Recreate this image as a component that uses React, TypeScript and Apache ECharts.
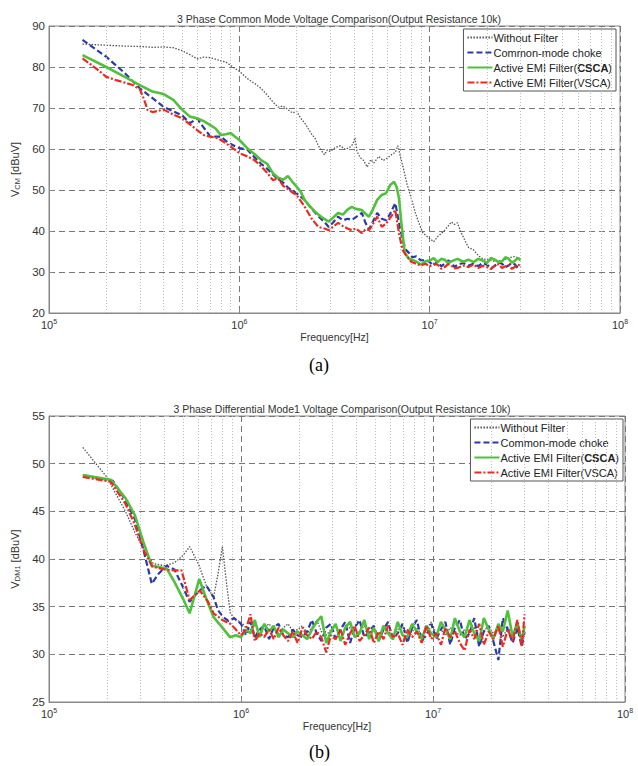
import React, { useEffect, useRef } from "react";
import * as echarts from "echarts";

// ---------- Chart (a): Common mode ----------
const cmTitle = "3 Phase Common Mode Voltage Comparison(Output Resistance 10k)";
const dmTitle = "3 Phase Differential Mode1 Voltage Comparison(Output Resistance 10k)";
const seriesNames = ["Without Filter", "Common-mode choke", "Active EMI Filter(CSCA)", "Active EMI Filter(VSCA)"];

const cmWithoutF = [1.5e5, 2e5, 2.5e5, 3e5, 3.5e5, 4e5, 4.5e5, 5e5, 5.5e5, 6e5, 6.5e5, 7e5, 7.5e5, 8e5, 8.5e5, 9e5, 9.5e5, 1e6, 1.1e6, 1.2e6, 1.3e6, 1.4e6, 1.5e6, 1.6e6, 1.7e6, 1.8e6, 1.9e6, 2e6, 2.1e6, 2.2e6, 2.3e6, 2.4e6, 2.5e6, 2.6e6, 2.7e6, 2.8e6, 2.9e6, 3e6, 3.2e6, 3.4e6, 3.6e6, 3.8e6, 3.95e6, 4.05e6, 4.15e6, 4.3e6, 4.5e6, 4.7e6, 4.9e6, 5.1e6, 5.4e6, 5.7e6, 6e6, 6.3e6, 6.6e6, 6.8e6, 7e6, 7.3e6, 7.6e6, 8e6, 8.4e6, 8.8e6, 9.2e6, 9.6e6, 1e7, 1.05e7, 1.1e7, 1.15e7, 1.2e7, 1.25e7, 1.3e7, 1.35e7, 1.4e7, 1.45e7, 1.5e7, 1.55e7, 1.6e7, 1.7e7, 1.8e7, 1.9e7, 2e7, 2.2e7, 2.4e7, 2.6e7, 2.8e7, 3e7];
const cmWithoutV = [85.6, 85.3, 85.1, 85.0, 84.8, 84.9, 84.7, 84.0, 83.0, 82.0, 82.4, 82.3, 81.9, 81.5, 81.2, 80.4, 79.6, 79.0, 77.2, 76.0, 74.8, 73.2, 71.5, 70.2, 70.5, 69.6, 68.8, 69.2, 67.5, 66.4, 65.0, 63.6, 62.6, 60.8, 59.6, 58.6, 59.8, 59.4, 60.4, 60.8, 59.9, 60.4, 61.2, 62.8, 59.5, 58.0, 57.2, 55.6, 57.4, 56.6, 58.2, 57.2, 57.8, 58.6, 59.2, 60.8, 58.4, 55.0, 51.5, 48.0, 44.5, 41.8, 39.6, 38.8, 38.2, 37.4, 38.6, 39.4, 40.2, 41.2, 42.2, 41.6, 42.0, 40.0, 38.6, 37.2, 36.0, 35.4, 34.0, 33.2, 33.0, 32.6, 32.8, 33.4, 33.8, 33.2];

const cmChokeF = [1.5e5, 2e5, 2.5e5, 3e5, 3.5e5, 4e5, 4.5e5, 5e5, 5.5e5, 6e5, 6.5e5, 7e5, 7.5e5, 8e5, 8.5e5, 9e5, 1e6, 1.1e6, 1.2e6, 1.3e6, 1.4e6, 1.5e6, 1.6e6, 1.7e6, 1.8e6, 1.9e6, 2e6, 2.2e6, 2.4e6, 2.6e6, 2.8e6, 2.95e6, 3.1e6, 3.3e6, 3.5e6, 3.7e6, 3.9e6, 4.1e6, 4.4e6, 4.6e6, 4.8e6, 5e6, 5.3e6, 5.6e6, 5.9e6, 6.2e6, 6.6e6, 6.9e6, 7.2e6, 7.5e6, 7.8e6, 8.1e6, 8.5e6, 9e6, 9.5e6, 1e7, 1.05e7, 1.1e7, 1.15e7, 1.2e7, 1.25e7, 1.3e7, 1.35e7, 1.4e7, 1.5e7, 1.6e7, 1.7e7, 1.8e7, 1.9e7, 2e7, 2.1e7, 2.2e7, 2.3e7, 2.4e7, 2.5e7, 2.6e7, 2.7e7, 2.8e7, 2.9e7, 3e7];
const cmChokeV = [86.6, 82.5, 78.5, 74.8, 72.4, 70.3, 69.2, 68.2, 66.3, 67.4, 65.2, 63.2, 63.0, 63.0, 62.0, 61.2, 60.2, 59.9, 58.0, 56.4, 55.2, 53.8, 52.6, 51.8, 50.6, 49.8, 49.2, 47.6, 45.4, 43.6, 42.2, 41.0, 42.0, 43.5, 42.6, 43.0, 42.7, 43.4, 44.4, 42.0, 40.4, 42.0, 44.4, 43.0, 42.6, 44.2, 46.8, 42.0, 37.8, 35.4, 34.6, 33.6, 33.8, 32.8, 33.0, 32.4, 31.6, 32.6, 31.4, 32.0, 32.8, 32.4, 31.2, 31.8, 32.2, 31.6, 32.0, 31.4, 32.2, 31.8, 30.9, 31.5, 32.3, 32.0, 31.2, 31.6, 32.2, 31.9, 31.0, 31.4];

const cmCscaF = [1.5e5, 2e5, 2.5e5, 3e5, 3.5e5, 4e5, 4.5e5, 5e5, 5.5e5, 6e5, 6.5e5, 7e5, 7.5e5, 8e5, 8.5e5, 9e5, 9.5e5, 1e6, 1.1e6, 1.2e6, 1.3e6, 1.4e6, 1.5e6, 1.6e6, 1.7e6, 1.8e6, 1.9e6, 2e6, 2.1e6, 2.2e6, 2.35e6, 2.5e6, 2.7e6, 2.95e6, 3.1e6, 3.3e6, 3.5e6, 3.7e6, 3.9e6, 4.1e6, 4.4e6, 4.6e6, 4.8e6, 5e6, 5.3e6, 5.6e6, 5.9e6, 6.2e6, 6.5e6, 6.7e6, 6.9e6, 7.1e6, 7.4e6, 7.8e6, 8.2e6, 8.6e6, 9e6, 9.5e6, 1e7, 1.05e7, 1.1e7, 1.15e7, 1.2e7, 1.25e7, 1.3e7, 1.4e7, 1.5e7, 1.6e7, 1.7e7, 1.8e7, 1.9e7, 2e7, 2.1e7, 2.2e7, 2.3e7, 2.4e7, 2.5e7, 2.6e7, 2.7e7, 2.8e7, 2.9e7, 3e7];
const cmCscaV = [82.9, 80.0, 77.6, 75.6, 74.0, 73.4, 72.0, 69.6, 67.9, 67.5, 66.8, 65.9, 65.0, 63.4, 63.6, 63.9, 63.0, 62.2, 60.2, 58.8, 57.3, 56.4, 54.1, 53.0, 52.5, 53.4, 52.0, 50.8, 49.6, 47.6, 46.0, 44.7, 43.4, 42.3, 43.2, 44.4, 44.0, 45.2, 45.9, 45.4, 45.1, 44.2, 43.5, 45.0, 47.6, 48.8, 49.2, 51.2, 52.0, 50.8, 48.0, 42.0, 34.6, 33.2, 32.9, 32.4, 31.8, 32.6, 32.8, 33.4, 32.4, 33.2, 33.0, 32.2, 32.6, 33.2, 32.5, 33.0, 32.4, 33.2, 32.8, 32.2, 33.4, 33.0, 32.4, 32.6, 33.6, 33.2, 32.3, 32.7, 33.4, 32.9];

const cmVscaF = [1.5e5, 1.75e5, 2e5, 2.25e5, 2.5e5, 2.75e5, 3e5, 3.15e5, 3.3e5, 3.5e5, 3.75e5, 4e5, 4.5e5, 5e5, 5.5e5, 6e5, 6.5e5, 7e5, 7.5e5, 8e5, 9e5, 1e6, 1.1e6, 1.2e6, 1.3e6, 1.4e6, 1.5e6, 1.6e6, 1.7e6, 1.8e6, 1.9e6, 2e6, 2.2e6, 2.4e6, 2.6e6, 2.8e6, 2.95e6, 3.1e6, 3.3e6, 3.5e6, 3.7e6, 3.9e6, 4.1e6, 4.4e6, 4.6e6, 4.8e6, 5e6, 5.3e6, 5.6e6, 5.9e6, 6.2e6, 6.6e6, 6.9e6, 7.2e6, 7.5e6, 8e6, 8.5e6, 9e6, 9.5e6, 1e7, 1.05e7, 1.1e7, 1.15e7, 1.2e7, 1.25e7, 1.3e7, 1.35e7, 1.4e7, 1.5e7, 1.6e7, 1.7e7, 1.8e7, 1.9e7, 2e7, 2.1e7, 2.2e7, 2.3e7, 2.4e7, 2.5e7, 2.6e7, 2.7e7, 2.8e7, 2.9e7, 3e7];
const cmVscaV = [82.1, 79.8, 77.6, 76.8, 76.2, 75.6, 74.6, 72.2, 69.5, 69.0, 69.3, 69.6, 68.4, 67.5, 66.0, 64.6, 63.4, 63.0, 62.8, 62.2, 60.6, 59.0, 58.2, 57.3, 55.8, 54.2, 52.4, 52.8, 51.0, 50.2, 49.4, 48.8, 46.0, 43.0, 41.0, 40.6, 40.2, 41.0, 42.0, 41.2, 40.6, 40.2, 40.6, 39.5, 40.4, 40.2, 41.4, 43.5, 41.0, 41.8, 43.2, 45.1, 39.4, 35.4, 34.2, 32.5, 32.0, 31.6, 32.0, 31.4, 32.0, 31.8, 30.8, 31.2, 31.9, 31.6, 30.9, 31.0, 31.6, 31.2, 31.8, 31.0, 31.5, 31.2, 30.7, 31.6, 31.9, 31.0, 31.4, 31.7, 30.8, 31.2, 31.8, 31.5];

// ---------- Chart (b): Differential mode ----------
const dmWithoutHeadF = [1.5e5, 2e5, 2.5e5, 2.8e5, 3.2e5, 3.5e5, 4e5, 4.5e5, 5e5, 5.4e5, 6e5, 6.6e5, 7.2e5, 7.6e5, 8e5, 8.4e5, 8.8e5, 9.4e5];
const dmWithoutHeadV = [51.7, 48.6, 45.0, 42.8, 40.6, 39.5, 39.3, 39.6, 40.4, 41.3, 39.5, 37.2, 36.0, 38.5, 41.3, 37.5, 34.3, 33.6];
const dmChokeHeadF = [1.5e5, 2.15e5, 2.5e5, 2.8e5, 3.1e5, 3.43e5, 3.7e5, 4.1e5, 4.5e5, 5e5, 5.4e5, 6e5, 6.6e5, 7.2e5, 7.6e5, 8.1e5, 8.6e5, 9.2e5];
const dmChokeHeadV = [48.8, 48.2, 46.2, 44.2, 41.0, 37.4, 38.4, 39.3, 38.9, 37.0, 35.5, 36.6, 37.2, 36.0, 34.6, 33.9, 33.5, 33.8];
const dmCscaHeadF = [1.5e5, 2.1e5, 2.5e5, 2.8e5, 3.1e5, 3.43e5, 4.1e5, 4.5e5, 5e5, 5.4e5, 6.06e5, 6.6e5, 7.2e5, 8e5, 8.76e5, 9.4e5];
const dmCscaHeadV = [48.8, 48.3, 46.4, 44.6, 41.8, 39.3, 39.0, 37.6, 35.8, 34.3, 37.9, 35.8, 33.9, 32.8, 31.8, 32.0];
const dmVscaHeadF = [1.5e5, 2.1e5, 2.5e5, 2.8e5, 3.1e5, 3.45e5, 4e5, 4.5e5, 4.9e5, 5.4e5, 6.1e5, 6.7e5, 7.2e5, 8e5, 8.8e5, 9.4e5];
const dmVscaHeadV = [48.6, 48.1, 45.8, 43.6, 41.0, 39.2, 38.9, 38.8, 38.8, 35.7, 36.7, 35.6, 34.3, 33.6, 33.2, 32.6];

const dmTailF = [1.0e6, 1.06e6, 1.12e6, 1.18e6, 1.25e6, 1.32e6, 1.4e6, 1.48e6, 1.57e6, 1.66e6, 1.76e6, 1.86e6, 1.97e6, 2.09e6, 2.21e6, 2.34e6, 2.48e6, 2.62e6, 2.78e6, 2.94e6, 3.11e6, 3.3e6, 3.49e6, 3.7e6, 3.91e6, 4.14e6, 4.39e6, 4.65e6, 4.92e6, 5.21e6, 5.52e6, 5.84e6, 6.19e6, 6.55e6, 6.94e6, 7.35e6, 7.78e6, 8.24e6, 8.73e6, 9.24e6, 9.79e6, 1.04e7, 1.1e7, 1.16e7, 1.23e7, 1.3e7, 1.38e7, 1.46e7, 1.55e7, 1.64e7, 1.74e7, 1.84e7, 1.95e7, 2.06e7, 2.19e7, 2.31e7, 2.45e7, 2.6e7, 2.75e7, 2.9e7, 3.0e7];
const dmWithoutTailV = [33.4, 32.8, 32.6, 33.0, 32.4, 32.8, 33.2, 32.6, 32.2, 32.8, 33.2, 32.4, 32.6, 33.0, 32.2, 32.8, 33.6, 32.4, 32.0, 32.6, 33.0, 32.2, 32.6, 32.8, 32.0, 32.4, 33.0, 32.2, 32.6, 32.0, 32.8, 32.4, 32.0, 32.6, 33.0, 32.2, 32.4, 32.8, 32.0, 32.6, 33.4, 32.2, 32.6, 32.0, 32.8, 32.4, 32.0, 32.6, 32.2, 32.8, 32.0, 32.4, 33.0, 32.2, 32.6, 31.8, 32.8, 32.2, 32.6, 32.0, 32.4];
const dmChokeTailV = [33.2, 32.0, 33.4, 31.8, 32.6, 33.0, 31.6, 32.8, 33.2, 32.0, 31.8, 32.6, 32.0, 31.8, 32.4, 33.6, 32.2, 31.4, 32.8, 33.2, 31.6, 32.6, 33.4, 31.2, 32.8, 33.6, 31.8, 32.4, 33.0, 31.4, 32.6, 33.4, 31.6, 32.2, 33.2, 31.2, 32.8, 33.6, 31.4, 32.0, 33.2, 31.6, 32.6, 33.4, 31.0, 32.8, 33.6, 31.6, 32.2, 33.8, 30.8, 32.4, 33.0, 31.4, 29.4, 33.8, 32.6, 31.2, 32.8, 30.8, 32.4];
const dmCscaTailV = [31.8, 32.6, 32.2, 33.6, 31.8, 33.2, 32.4, 33.0, 31.8, 32.6, 32.2, 31.8, 32.4, 32.0, 31.6, 32.6, 33.4, 34.0, 31.2, 32.4, 33.2, 31.4, 32.8, 33.4, 31.8, 32.2, 33.6, 31.6, 32.8, 31.4, 33.0, 32.2, 31.6, 33.4, 32.0, 31.8, 33.2, 32.4, 31.6, 33.0, 32.2, 31.8, 33.4, 32.6, 31.6, 33.8, 32.4, 31.8, 33.6, 32.2, 31.4, 33.8, 32.6, 31.6, 33.2, 32.4, 34.6, 31.8, 33.4, 31.4, 33.0];
const dmVscaTailV = [32.0, 32.6, 34.2, 31.4, 32.2, 31.8, 32.6, 31.6, 32.8, 32.0, 31.4, 32.4, 31.2, 32.8, 32.0, 31.6, 32.4, 31.8, 30.2, 32.0, 31.6, 32.6, 31.0, 32.2, 33.0, 31.4, 32.0, 32.8, 31.2, 32.4, 31.6, 33.0, 31.8, 32.2, 31.0, 32.6, 31.8, 32.4, 31.2, 33.0, 31.6, 32.2, 31.0, 32.8, 31.8, 32.4, 31.2, 30.4, 32.6, 31.6, 33.2, 31.0, 32.4, 31.6, 33.0, 30.8, 32.6, 31.4, 33.6, 30.8, 34.2];

const minorGridF = [2e5, 3e5, 4e5, 5e5, 6e5, 7e5, 8e5, 9e5, 2e6, 3e6, 4e6, 5e6, 6e6, 7e6, 8e6, 9e6, 2e7, 3e7, 4e7, 5e7, 6e7, 7e7, 8e7, 9e7];

const cmY = { min: 20, max: 90, interval: 10 };
const dmY = { min: 25, max: 55, interval: 5 };

const zip = (f: number[], v: number[]) => f.map((x, i) => [x, v[i]]);

const COLORS = ["#555555", "#2b3aa6", "#4fc13b", "#ec2a22"];
const FONT = "Liberation Sans, Arial, sans-serif";

function lineStyles(i: number) {
  if (i === 0) return { color: COLORS[0], width: 1.3, type: [1.5, 1.5] as any };
  if (i === 1) return { color: COLORS[1], width: 2.2, type: [6, 3] as any };
  if (i === 2) return { color: COLORS[2], width: 2.6, type: "solid" as any };
  return { color: COLORS[3], width: 2.2, type: [7, 2, 2, 2] as any };
}

export default function App() {
  const ref = useRef<HTMLDivElement>(null);
  useEffect(() => {
    document.body.style.margin = "0";
    const chart = echarts.init(ref.current!, null, { renderer: "svg" });

    const cmData = [zip(cmWithoutF, cmWithoutV), zip(cmChokeF, cmChokeV), zip(cmCscaF, cmCscaV), zip(cmVscaF, cmVscaV)];
    const dmData = [
      zip(dmWithoutHeadF, dmWithoutHeadV).concat(zip(dmTailF, dmWithoutTailV)),
      zip(dmChokeHeadF, dmChokeHeadV).concat(zip(dmTailF, dmChokeTailV)),
      zip(dmCscaHeadF, dmCscaHeadV).concat(zip(dmTailF, dmCscaTailV)),
      zip(dmVscaHeadF, dmVscaHeadV).concat(zip(dmTailF, dmVscaTailV)),
    ];

    const xAxisBase = (gridIndex: number) => ({
      type: "log",
      logBase: 10,
      min: 1e5,
      max: 1e8,
      gridIndex,
      name: "Frequency[Hz]",
      nameLocation: "middle",
      nameGap: 16,
      nameTextStyle: { fontFamily: FONT, fontSize: 10.5, color: "#333" },
      axisLine: { show: true, lineStyle: { color: "#888" } },
      axisTick: { show: true, inside: true, length: 4, lineStyle: { color: "#888" } },
      axisLabel: {
        margin: 5,
        formatter: (v: number) => "{b|10}{s|" + Math.round(Math.log10(v)) + "}",
        rich: {
          b: { fontFamily: FONT, fontSize: 11, color: "#333" },
          s: { fontFamily: FONT, fontSize: 7, color: "#333", padding: [0, 0, 7, 0] },
        },
      },
      splitLine: { show: true, lineStyle: { color: "#777", type: [6, 4], width: 1 } },
    });

    const yAxisBase = (gridIndex: number, r: any, sub: string) => ({
      type: "value",
      gridIndex,
      min: r.min,
      max: r.max,
      interval: r.interval,
      name: "V{sub|" + sub + "} [dBuV]",
      nameLocation: "middle",
      nameGap: 21,
      nameTextStyle: {
        fontFamily: FONT,
        fontSize: 11,
        color: "#333",
        rich: { sub: { fontFamily: FONT, fontSize: 7.5, color: "#333", padding: [5, 0, 0, 0] } },
      },
      axisLine: { show: true, lineStyle: { color: "#888" } },
      axisTick: { show: true, inside: true, length: 4, lineStyle: { color: "#888" } },
      axisLabel: { fontFamily: FONT, fontSize: 11.5, color: "#333", margin: 4 },
      splitLine: { show: true, lineStyle: { color: "#777", type: [6, 4], width: 1 } },
    });

    const legendBase = (top: number, right: number) => ({
      data: seriesNames,
      orient: "vertical",
      top,
      right,
      itemWidth: 25,
      itemHeight: 10,
      itemGap: 4,
      padding: [3, 4, 3, 3],
      borderColor: "#555",
      borderWidth: 1,
      borderRadius: 0,
      backgroundColor: "#fff",
      selectedMode: false,
      itemStyle: { opacity: 0, borderWidth: 0 },
      textStyle: {
        fontFamily: FONT,
        fontSize: 11,
        color: "#222",
        padding: [0, 0, 0, -4],
        rich: { bb: { fontFamily: FONT, fontSize: 11, fontWeight: "bold", color: "#222" } },
      },
      formatter: (name: string) =>
        name === "Active EMI Filter(CSCA)" ? "Active EMI Filter({bb|CSCA})" : name,
    });

    const dataSeries: any[] = [];
    [cmData, dmData].forEach((set, g) => {
      set.forEach((d, i) => {
        dataSeries.push({
          type: "line",
          name: seriesNames[i],
          xAxisIndex: g,
          yAxisIndex: g,
          data: d,
          showSymbol: false,
          symbol: "none",
          z: 3 + i,
          lineStyle: lineStyles(i),
          itemStyle: { color: COLORS[i] },
        });
      });
      dataSeries.push({
        type: "line",
        name: "minor" + g,
        xAxisIndex: g,
        yAxisIndex: g,
        data: [],
        z: 1,
        silent: true,
        markLine: {
          silent: true,
          symbol: "none",
          label: { show: false },
          lineStyle: { color: "#bbb", type: [1, 2], width: 1 },
          data: minorGridF.map((f) => ({ xAxis: f })),
        },
      });
    });

    chart.setOption({
      animation: false,
      backgroundColor: "#fff",
      title: [
        { text: cmTitle, left: 334, top: 8, textAlign: "center", textStyle: { fontFamily: FONT, fontSize: 10.5, fontWeight: "normal", color: "#333" } },
        { text: dmTitle, left: 337, top: 398, textAlign: "center", textStyle: { fontFamily: FONT, fontSize: 10.5, fontWeight: "normal", color: "#333" } },
      ],
      grid: [
        { left: 49, right: 18, top: 26, height: 287, show: true, borderColor: "#888", borderWidth: 1 },
        { left: 49, right: 13, top: 416, height: 286, show: true, borderColor: "#888", borderWidth: 1 },
      ],
      xAxis: [xAxisBase(0), xAxisBase(1)],
      yAxis: [yAxisBase(0, cmY, "CM"), yAxisBase(1, dmY, "DM1")],
      legend: [legendBase(29, 22), legendBase(419, 15)],
      series: dataSeries,
      graphic: [
        { type: "text", left: 309, top: 356, style: { text: "(a)", fontFamily: "Liberation Serif, Times New Roman, serif", fontSize: 18, fill: "#000" } },
        { type: "text", left: 309, top: 743, style: { text: "(b)", fontFamily: "Liberation Serif, Times New Roman, serif", fontSize: 18, fill: "#000" } },
      ],
    });
    return () => chart.dispose();
  }, []);
  return <div ref={ref} style={{ width: 638, height: 766 }} />;
}
